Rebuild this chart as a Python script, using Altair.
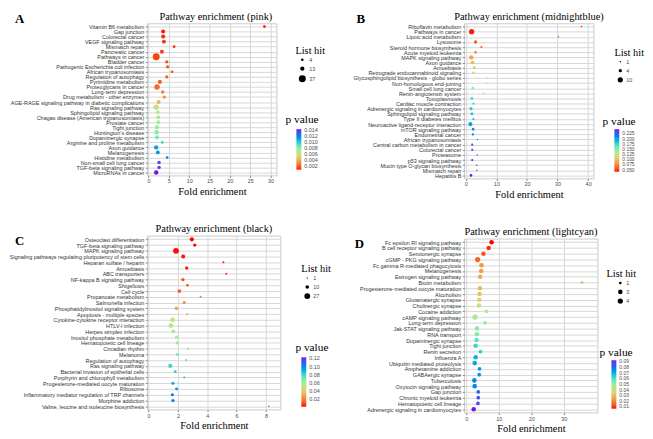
import altair as alt
import numpy as np
import pandas as pd

SERIF = "Liberation Serif"
SANS = "Liberation Sans"
GREY = "#4D4D4D"
RAINBOW = ["#FF0000", "#F26A2E", "#F2A553", "#DCD374", "#B4E98C",
           "#7FEBAE", "#3FD2D3", "#239BE0", "#3A5CE6", "#7216EC"]

# ---------------- Panel A (pink) ----------------
A_PATHWAY = ["Vitamin B6 metabolism", "Gap junction", "Colorectal cancer", "VEGF signaling pathway",
             "Mismatch repair", "Pancreatic cancer", "Pathways in cancer", "Bladder cancer",
             "Pathogenic Escherichia coli infection", "African trypanosomiasis", "Regulation of autophagy",
             "Pyrimidine metabolism", "Proteoglycans in cancer", "Long-term depression",
             "Drug metabolism - other enzymes", "AGE-RAGE signaling pathway in diabetic complications",
             "Ras signaling pathway", "Sphingolipid signaling pathway", "Chagas disease (American trypanosomiasis)",
             "Prostate cancer", "Tight junction", "Huntington's disease", "Dopaminergic synapse",
             "Arginine and proline metabolism", "Axon guidance", "Melanogenesis", "Histidine metabolism",
             "Non-small cell lung cancer", "TGF-beta signaling pathway", "MicroRNAs in cancer"]
A_FOLD = [28.5, 3.6, 3.6, 3.8, 6.3, 3.3, 1.9, 4.5, 4.7, 5.8, 4.5, 2.8, 2.1, 3.5, 3.9,
          2.5, 1.9, 2.3, 2.4, 2.4, 2.1, 2.0, 2.1, 3.4, 1.9, 2.3, 4.6, 2.6, 2.6, 1.9]
A_HIT = [4, 11, 11, 10, 5, 11, 37, 7, 7, 5, 6, 12, 22, 8, 7,
         11, 20, 11, 10, 10, 12, 14, 12, 6, 14, 10, 4, 8, 8, 14]
A_PVALUE = [0.0007, 0.0008, 0.0009, 0.0010, 0.0011, 0.0012, 0.0013, 0.0015, 0.0016, 0.0017,
            0.0018, 0.0020, 0.0022, 0.0028, 0.0031, 0.0042, 0.0062, 0.0066, 0.0069, 0.0072,
            0.0077, 0.0080, 0.0083, 0.0092, 0.0113, 0.0115, 0.0125, 0.0134, 0.0136, 0.0143]
A_X_TICKS = [0, 5, 10, 15, 20, 25, 30]
A_HIT_LEGEND = [4, 13, 37]
A_P_TICKS = [0.002, 0.004, 0.006, 0.008, 0.010, 0.012, 0.014]

# ---------------- Panel B (midnightblue) ----------------
B_PATHWAY = ["Riboflavin metabolism", "Pathways in cancer", "Lipoic acid metabolism", "Lysosome",
             "Steroid hormone biosynthesis", "Acute myeloid leukemia", "MAPK signaling pathway",
             "Axon guidance", "Amoebiasis", "Retrograde endocannabinoid signaling",
             "Glycosphingolipid biosynthesis - globo series", "Non-homologous end-joining",
             "Small cell lung cancer", "Renin-angiotensin system", "Toxoplasmosis",
             "Cardiac muscle contraction", "Adrenergic signaling in cardiomyocytes",
             "Sphingolipid signaling pathway", "Type II diabetes mellitus",
             "Neuroactive ligand-receptor interaction", "mTOR signaling pathway", "Endometrial cancer",
             "African trypanosomiasis", "Central carbon metabolism in cancer", "Colorectal cancer",
             "Proteasome", "p53 signaling pathway", "Mucin type O-glycan biosynthesis",
             "Mismatch repair", "Hepatitis B"]
B_FOLD = [37.8, 1.9, 30.3, 3.2, 5.1, 3.2, 1.8, 2.2, 2.8, 2.5, 7.0, 6.9, 2.3, 5.8, 2.0,
          2.5, 1.7, 2.0, 2.5, 1.5, 2.4, 2.3, 3.8, 2.1, 2.1, 3.7, 2.1, 3.6, 3.6, 1.7]
B_HIT = [1, 10, 1, 4, 2, 3, 7, 5, 3, 3, 1, 1, 3, 1, 3,
         2, 4, 3, 2, 6, 3, 2, 1, 2, 2, 1, 2, 1, 1, 3]
B_PVALUE = [0.041, 0.042, 0.045, 0.054, 0.061, 0.077, 0.085, 0.096, 0.102, 0.118,
            0.139, 0.143, 0.149, 0.157, 0.174, 0.178, 0.180, 0.184, 0.188, 0.197,
            0.205, 0.209, 0.221, 0.229, 0.231, 0.233, 0.236, 0.238, 0.241, 0.246]
B_X_TICKS = [0, 10, 20, 30, 40]
B_HIT_LEGEND = [1, 4, 10]
B_P_TICKS = [0.050, 0.075, 0.100, 0.125, 0.150, 0.175, 0.200, 0.225]

# ---------------- Panel C (black) ----------------
C_PATHWAY = ["Osteoclast differentiation", "TGF-beta signaling pathway", "MAPK signaling pathway",
             "Signaling pathways regulating pluripotency of stem cells", "Heparan sulfate / heparin",
             "Amoebiasis", "ABC transporters", "NF-kappa B signaling pathway", "Shigellosis", "Cell cycle",
             "Propanoate metabolism", "Salmonella infection", "Phosphatidylinositol signaling system",
             "Apoptosis - multiple species", "Cytokine-cytokine receptor interaction", "HTLV-I infection",
             "Herpes simplex infection", "Inositol phosphate metabolism", "Hematopoietic cell lineage",
             "Circadian rhythm", "Melanoma", "Regulation of autophagy", "Ras signaling pathway",
             "Bacterial invasion of epithelial cells", "Porphyrin and chlorophyll metabolism",
             "Progesterone-mediated oocyte maturation", "Ribosome",
             "Inflammatory mediator regulation of TRP channels", "Morphine addiction",
             "Valine, leucine and isoleucine biosynthesis"]
C_FOLD = [2.95, 3.15, 1.87, 2.36, 5.1, 2.6, 5.3, 2.34, 2.65, 2.1, 3.55, 2.43, 1.9, 2.63, 1.64,
          1.53, 1.69, 1.91, 1.96, 2.67, 1.96, 2.56, 1.48, 1.82, 2.43, 1.66, 1.91, 1.62, 1.66, 8.2]
C_HIT = [14, 8, 27, 12, 3, 9, 3, 8, 6, 11, 3, 7, 10, 4, 16,
         18, 12, 7, 7, 3, 6, 3, 14, 6, 2, 7, 6, 7, 7, 1]
C_PVALUE = [0.0003, 0.0005, 0.0008, 0.0010, 0.0015, 0.0020, 0.0030, 0.0077, 0.0101, 0.0126,
            0.0163, 0.0199, 0.0273, 0.0334, 0.0494, 0.0555, 0.0580, 0.0592, 0.0617, 0.0690,
            0.0715, 0.0739, 0.0800, 0.0837, 0.0911, 0.0960, 0.0985, 0.1046, 0.1058, 0.1230]
C_X_TICKS = [0, 2, 4, 6, 8]
C_HIT_LEGEND = [1, 10, 27]
C_P_TICKS = [0.02, 0.04, 0.06, 0.08, 0.10, 0.12]

# ---------------- Panel D (lightcyan) ----------------
D_PATHWAY = ["Fc epsilon RI signaling pathway", "B cell receptor signaling pathway", "Serotonergic synapse",
             "cGMP - PKG signaling pathway", "Fc gamma R-mediated phagocytosis", "Melanogenesis",
             "Estrogen signaling pathway", "Biotin metabolism", "Progesterone-mediated oocyte maturation",
             "Alcoholism", "Glutamatergic synapse", "Cholinergic synapse", "Cocaine addiction",
             "cAMP signaling pathway", "Long-term depression", "Jak-STAT signaling pathway", "RNA transport",
             "Dopaminergic synapse", "Tight junction", "Renin secretion", "Influenza A",
             "Ubiquitin mediated proteolysis", "Amphetamine addiction", "GABAergic synapse", "Tuberculosis",
             "Oxytocin signaling pathway", "Gap junction", "Chronic myeloid leukemia",
             "Hematopoietic cell lineage", "Adrenergic signaling in cardiomyocytes"]
D_FOLD = [7.8, 6.9, 5.3, 3.5, 4.7, 4.6, 4.3, 35.6, 4.2, 4.1, 4.0, 3.9, 6.2, 2.7, 5.8,
          3.3, 3.3, 3.2, 2.9, 4.4, 2.9, 2.6, 4.1, 4.0, 2.5, 2.6, 3.7, 3.7, 3.6, 2.3]
D_HIT = [3, 3, 3, 4, 3, 3, 3, 1, 3, 3, 3, 3, 2, 4, 2,
         3, 3, 3, 3, 2, 3, 3, 2, 2, 3, 3, 2, 2, 2, 3]
D_PVALUE = [0.0060, 0.0080, 0.0120, 0.0150, 0.0230, 0.0240, 0.0260, 0.0275, 0.0300, 0.0320,
            0.0360, 0.0400, 0.0450, 0.0465, 0.0490, 0.0520, 0.0540, 0.0576, 0.0630, 0.0645,
            0.0680, 0.0720, 0.0740, 0.0750, 0.0755, 0.0760, 0.0817, 0.0850, 0.0860, 0.0920]
D_X_TICKS = [0, 10, 20, 30]
D_HIT_LEGEND = [1, 3, 4]
D_P_TICKS = [0.01, 0.02, 0.03, 0.04, 0.05, 0.06, 0.07, 0.08, 0.09]


def label(text, x, y, size, bold=False, align="left"):
    return alt.Chart(pd.DataFrame({"t": [text]})).mark_text(
        font=SERIF, fontSize=size, fontWeight="bold" if bold else "normal",
        align=align, baseline="middle", color="black"
    ).encode(text="t:N", x=alt.value(x), y=alt.value(y))


def panel(letter, name, pathways, fold, hit, pval, x_domain, x_ticks, hit_domain, size_range,
          hit_legend, p_domain, p_ticks, p_format, width, height, lay):
    df = pd.DataFrame({"Pathway": pathways, "Fold": fold, "Hit": hit, "P": pval})
    stops = np.linspace(p_domain[0], p_domain[1], len(RAINBOW)).tolist()
    points = alt.Chart(df).mark_circle(opacity=1).encode(
        x=alt.X("Fold:Q",
                scale=alt.Scale(domain=x_domain, nice=False, zero=False),
                axis=alt.Axis(values=x_ticks, format="d", title="Fold enrichment",
                              titleFont=SERIF, titleFontSize=10.5, titleFontWeight="normal",
                              titleColor="black", titlePadding=2,
                              labelFont=SANS, labelFontSize=5.5, labelColor=GREY, labelPadding=1.5,
                              tickSize=2, tickColor="#888888", domain=False,
                              grid=True, gridColor="#D6D6D6", gridWidth=1)),
        y=alt.Y("Pathway:N", sort=pathways,
                scale=alt.Scale(type="point", padding=0.6),
                axis=alt.Axis(title=None, labelFont=SANS, labelFontSize=5.5, labelColor="#333333",
                              labelPadding=1.5, labelLimit=400, labelOverlap=False,
                              tickSize=2, tickColor="#888888", domain=False,
                              grid=True, gridColor="#D6D6D6", gridWidth=1)),
        size=alt.Size("Hit:Q",
                      scale=alt.Scale(domain=hit_domain, range=size_range, zero=False),
                      legend=alt.Legend(title=None, orient="none", direction="vertical",
                                        legendX=lay["size"][0], legendY=lay["size"][1],
                                        values=hit_legend, format="d", symbolType="circle",
                                        symbolFillColor="black", symbolStrokeWidth=0,
                                        symbolOpacity=1, labelFont=SANS, labelFontSize=5.5,
                                        labelColor=GREY, labelOffset=3, rowPadding=2)),
        color=alt.Color("P:Q",
                        scale=alt.Scale(domain=stops, range=RAINBOW),
                        legend=alt.Legend(title=None, orient="none", direction="vertical",
                                          legendX=lay["grad"][0], legendY=lay["grad"][1],
                                          values=p_ticks, format=p_format, labelOverlap=False,
                                          gradientLength=lay["grad"][2], gradientThickness=5,
                                          gradientStrokeWidth=0, labelFont=SANS,
                                          labelFontSize=lay["grad"][3],
                                          labelColor=GREY, labelOffset=3)),
    )
    return alt.layer(
        points,
        label(name, width / 2 + lay.get("title_dx", 0), -7, 10.5, align="center"),
        label(letter, lay["letter"][0], lay["letter"][1], 13, bold=True),
        label("List hit", lay["list"][0], lay["list"][1], 10.5),
        label("p value", lay["ptitle"][0], lay["ptitle"][1], 11.5),
    ).properties(width=width, height=height)


pa = panel("A", "Pathway enrichment (pink)", A_PATHWAY, A_FOLD, A_HIT, A_PVALUE,
           [-0.3, 31.5], A_X_TICKS, [4, 37], [7, 50], A_HIT_LEGEND,
           [0.0007, 0.0143], A_P_TICKS, ".3f", 131, 154,
           {"letter": (-134, -4), "list": (150, 28), "size": (153, 34),
            "ptitle": (140, 98), "grad": (151, 107, 41, 5.5), "title_dx": 4})
pb = panel("B", "Pathway enrichment (midnightblue)", B_PATHWAY, B_FOLD, B_HIT, B_PVALUE,
           [-0.5, 41.8], B_X_TICKS, [1, 10], [2.2, 28], B_HIT_LEGEND,
           [0.040, 0.246], B_P_TICKS, ".3f", 131, 157,
           {"letter": (-109, -4), "list": (152, 30), "size": (155, 36),
            "ptitle": (140, 100), "grad": (152, 107, 43, 5)})
pc = panel("C", "Pathway enrichment (black)", C_PATHWAY, C_FOLD, C_HIT, C_PVALUE,
           [-0.09, 9.0], C_X_TICKS, [1, 27], [1.8, 35], C_HIT_LEGEND,
           [0.0003, 0.123], C_P_TICKS, ".2f", 135, 176,
           {"letter": (-134, 5), "list": (156, 34), "size": (159, 40),
            "ptitle": (150, 114), "grad": (156, 123, 50, 5.5)})
pd_ = panel("D", "Pathway enrichment (lightcyan)", D_PATHWAY, D_FOLD, D_HIT, D_PVALUE,
            [-0.6, 40.4], D_X_TICKS, [1, 4], [7, 28], D_HIT_LEGEND,
            [0.006, 0.092], D_P_TICKS, ".2f", 135, 176,
            {"letter": (-111, 5), "list": (144, 36), "size": (155, 42),
             "ptitle": (137, 116), "grad": (149, 123, 49, 5)})

RES = dict(x="independent", y="independent", size="independent", color="independent")

col1 = alt.vconcat(pa, pc, spacing=26).resolve_scale(**RES).resolve_legend(size="independent", color="independent")
col2 = alt.vconcat(pb, pd_, spacing=26).resolve_scale(**RES).resolve_legend(size="independent", color="independent")

chart = alt.hconcat(col1, col2, spacing=20).resolve_scale(**RES).resolve_legend(
    size="independent", color="independent"
).properties(
    padding={"left": 0, "top": 0, "right": 0, "bottom": 0}
).configure(background="white").configure_view(stroke="#BDBDBD", strokeWidth=0.8)

chart.save("out.html", embed_options={"renderer": "svg", "actions": False})
